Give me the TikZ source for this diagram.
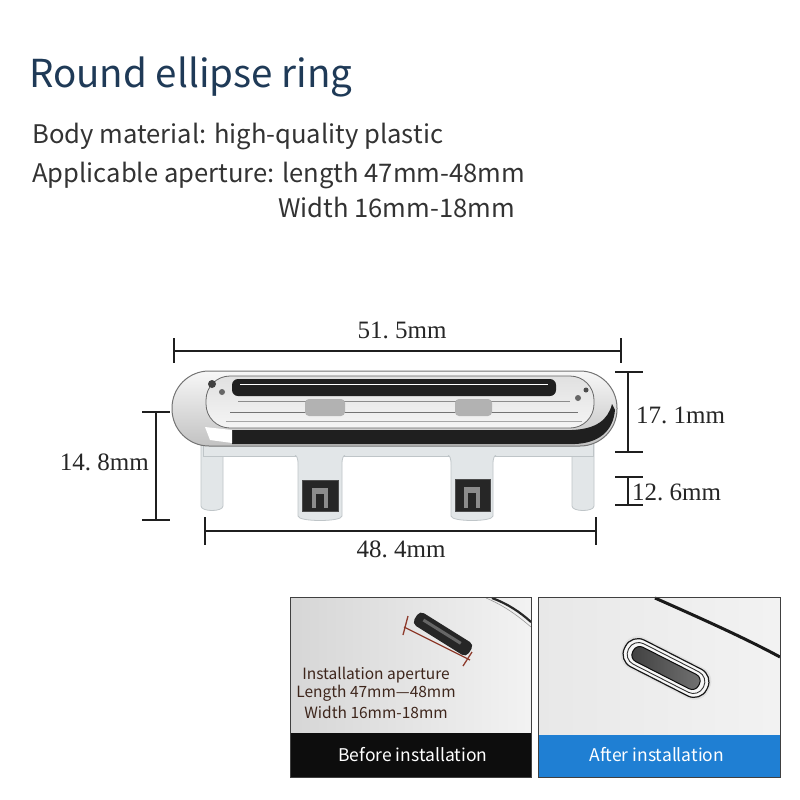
\documentclass[tikz,border=0pt]{standalone}
\usepackage{fontspec}
\newfontfamily\srcsans{Noto Sans CJK SC}
\newfontfamily\dimfont{Liberation Serif}
\definecolor{titleblue}{HTML}{1F3A57}
\definecolor{bodygrey}{HTML}{333333}
\definecolor{plastic}{HTML}{E2E6E8}
\definecolor{plasticedge}{HTML}{BFC5C8}
\definecolor{redline}{HTML}{8E3B2C}
\definecolor{barblue}{HTML}{1F7FD3}
\definecolor{aptext}{HTML}{3E261C}
\begin{document}
\begin{tikzpicture}[x=1pt,y=-1pt,
  dimline/.style={line width=1.7pt,draw=black!88},
  dimlabel/.style={font=\dimfont\fontsize{25}{26}\selectfont,text=black!85,inner sep=0pt},
  bodytext/.style={font=\srcsans\fontsize{25.6}{28}\selectfont,text=bodygrey,inner sep=0pt,anchor=base west},
  plasticpart/.style={fill=plastic,draw=plasticedge,line width=0.8pt},
  window/.style={fill=black!85,draw=black!70,line width=0.5pt},
  panelframe/.style={draw=black!75,line width=1pt},
  captext/.style={font=\srcsans\fontsize{17.5}{19}\selectfont,text=white,inner sep=0pt},
  aplabel/.style={font=\srcsans\fontsize{15.5}{17}\selectfont,text=aptext,inner sep=0pt}
]
\useasboundingbox (0,0) rectangle (800,800);
\fill[white] (0,0) rectangle (800,800);

% ---------- texts ----------
\node[font=\srcsans\fontsize{38.5}{42}\selectfont,text=titleblue,inner sep=0pt,anchor=base west] (title) at (29,88) {Round ellipse ring};
\node[bodytext] (l1) at (32,143) {Body material: high-quality plastic};
\node[bodytext] (l2) at (32,182) {Applicable aperture: length 47mm-48mm};
\node[bodytext] (l3) at (278,217) {Width 16mm-18mm};

% ---------- plastic legs and tabs ----------
\path[plasticpart] (201,444) -- (201,506) .. controls (201,512) and (223,512) .. (223,506) -- (223,444) -- cycle;
\path[plasticpart] (572,444) -- (572,506) .. controls (572,512) and (594,512) .. (594,506) -- (594,444) -- cycle;
\path[plasticpart] (203,443) rectangle (593,456);
\path[plasticpart] (290,452) .. controls (298,455) and (298,458) .. (298,466) -- (298,516) .. controls (298,522) and (342,522) .. (342,516) -- (342,466) .. controls (342,458) and (342,455) .. (350,452) -- cycle;
\path[plasticpart] (443,452) .. controls (451,455) and (451,458) .. (451,466) -- (451,516) .. controls (451,522) and (493,522) .. (493,516) -- (493,466) .. controls (493,458) and (493,455) .. (501,452) -- cycle;
\fill[plastic] (204,444) rectangle (592,455);
\path[window] (302,480) rectangle (338,511);
\path[window] (455,479) rectangle (490,511);
\fill[black!45] (312,488) rectangle (328,508);
\fill[black!85] (316,494) rectangle (324,508);
\fill[black!45] (464,487) rectangle (480,508);
\fill[black!85] (468,493) rectangle (476,508);

% ---------- chrome ring ----------
\shade[top color=black!3,bottom color=black!24,draw=black!55,line width=1pt,rounded corners=37] (172,371) rectangle (617,446);
\fill[black!88] (232,430) -- (572,430) .. controls (596,429) and (608,420) .. (612,404) -- (615,410) .. controls (613,432) and (598,443) .. (575,444) -- (232,444) -- cycle;
\fill[white] (205,427) -- (232,430) -- (232,443) -- (210,440) -- cycle;
\shade[top color=black!12,bottom color=black!4,draw=black!60,line width=0.8pt,rounded corners=24] (206,376) rectangle (594,428);
\fill[black!88,rounded corners=6] (232,379) rectangle (556,396);
\draw[white,line width=1pt] (240,384) -- (548,384);
\draw[black!45,line width=0.8pt] (238,401) -- (570,401);
\draw[black!55,line width=0.8pt] (230,412) -- (578,412);
\draw[black!35,line width=0.8pt] (226,421) -- (582,421);
\fill[black!30,rounded corners=4] (305,399) rectangle (345,416);
\fill[black!30,rounded corners=4] (455,399) rectangle (492,416);
\fill[black!75] (212,384) circle (4);
\fill[black!60] (222,392) circle (3);
\fill[black!60] (578,398) circle (3);
\fill[black!70] (586,390) circle (2.5);

% ---------- dimension lines ----------
\coordinate (a1) at (174,351); \coordinate (a2) at (621,351);
\draw[dimline] (a1) -- (a2);
\draw[dimline] (174,338) -- (174,363);
\draw[dimline] (621,338) -- (621,363);
\node[dimlabel] (d515) at (402,330) {51.\ 5mm};

\coordinate (b1) at (628,372); \coordinate (b2) at (628,452);
\draw[dimline] (b1) -- (b2);
\draw[dimline] (615,372) -- (643,372);
\draw[dimline] (615,452) -- (643,452);
\node[dimlabel,anchor=west] (d171) at (636,415) {17.\ 1mm};

\coordinate (c1) at (628,477); \coordinate (c2) at (628,505);
\draw[dimline] (c1) -- (c2);
\draw[dimline] (615,477) -- (643,477);
\draw[dimline] (615,505) -- (643,505);
\node[dimlabel,anchor=west] (d126) at (632,492) {12.\ 6mm};

\coordinate (e1) at (156,412); \coordinate (e2) at (156,520);
\draw[dimline] (e1) -- (e2);
\draw[dimline] (142,412) -- (170,412);
\draw[dimline] (142,520) -- (170,520);
\node[dimlabel,anchor=east] (d148) at (149,462) {14.\ 8mm};

\coordinate (f1) at (205,531); \coordinate (f2) at (596,531);
\draw[dimline] (f1) -- (f2);
\draw[dimline] (205,517) -- (205,545);
\draw[dimline] (596,517) -- (596,545);
\node[dimlabel] (d484) at (401,549) {48.\ 4mm};

% ---------- left panel ----------
\shade[left color=black!16,right color=black!5] (290,597) rectangle (531,733);
\fill[black!95] (290,733) rectangle (531,777);
\draw[black!85,line width=2.2pt] (492,598) .. controls (508,604) and (520,612) .. (531,622);
\draw[black!40,line width=0.6pt] (486,598) .. controls (505,606) and (518,616) .. (531,627);
\begin{scope}[shift={(443,634)},rotate=-32]
  \fill[black!85,rounded corners=5] (-32,-7.5) rectangle (32,7.5);
  \fill[black!60] (-24,-3) rectangle (20,0);
\end{scope}
\draw[redline,line width=1.3pt] (408,616) -- (403,635);
\draw[redline,line width=1.3pt] (404,627) -- (470,660);
\draw[redline,line width=1.3pt] (472,652) -- (463,666);
\node[aplabel] (ap1) at (376,675) {Installation aperture};
\node[aplabel] (ap2) at (376,693) {Length 47mm—48mm};
\node[aplabel] (ap3) at (376,712) {Width 16mm-18mm};
\node[captext] (before) at (413,755) {Before installation};
\draw[panelframe] (290,597) rectangle (531,777);

% ---------- right panel ----------
\shade[left color=black!9,right color=black!5] (538,597) rectangle (780,735);
\fill[barblue] (538,735) rectangle (780,777);
\draw[black!90,line width=3pt] (655,598) .. controls (700,618) and (745,638) .. (780,657);
\begin{scope}[shift={(666,668)},rotate=-27]
  \fill[black!12,rounded corners=15] (-48,-17) rectangle (48,17);
  \draw[black!90,line width=1.2pt,fill=black!3,rounded corners=14] (-46,-15) rectangle (46,15);
  \draw[black!80,line width=0.9pt,rounded corners=11] (-42,-11.5) rectangle (42,11.5);
  \shade[left color=black!75,right color=black!55,draw=black!95,line width=1pt,rounded corners=7] (-37,-8) rectangle (37,8);
\end{scope}
\node[captext] (after) at (657,755) {After installation};
\draw[panelframe] (538,597) rectangle (780,777);
\end{tikzpicture}
\end{document}
